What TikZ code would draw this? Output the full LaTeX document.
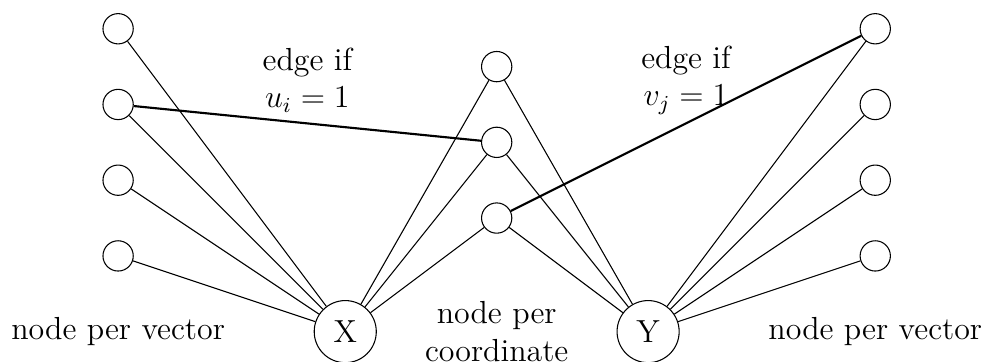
\documentclass[tikz,border=0pt]{standalone}
\usepackage{amsfonts}
\usepackage{tikz}

\begin{document}
\begin{tikzpicture}[auto, node distance=1cm,
    vertex/.style={circle, draw, minimum size=0.4cm, inner sep=0pt},
    hub/.style={circle, draw, minimum size=0.82cm, inner sep=0pt, font=\large},
    lbl/.style={align=center, font=\large}]
    \useasboundingbox (-1.56,-1.39) rectangle (11.41,3.38);
    % Nodes {a1..a4 vectors, c1..c3 coordinates, b1..b4 vectors, X, Y}
    \node [vertex]          (a1) at (0,0)         {};
    \node [vertex]          (a2) [above of=a1]    {};
    \node [vertex]          (a3) [above of=a2]    {};
    \node [vertex]          (a4) [above of=a3]    {};
    \node [vertex]          (c1) at (5,0.5)       {};
    \node [vertex]          (c2) [above of=c1]    {};
    \node [vertex]          (c3) [above of=c2]    {};
    \node [vertex]          (b1) at (10,0)        {};
    \node [vertex]          (b2) [above of=b1]    {};
    \node [vertex]          (b3) [above of=b2]    {};
    \node [vertex]          (b4) [above of=b3]    {};
    \node [hub]             (x)  at (3,-1)        {X};
    \node [hub]             (y)  at (7,-1)        {Y};

    % Labels
    \node [lbl]             (lx) at (0,-1)        {node per vector};
    \node [lbl]             (lc) at (5,-1)        {node per\\coordinate};
    \node [lbl]             (ly) at (10,-1)       {node per vector};
    \node [lbl]             (eu) at (2.5,2.32)    {edge if\\$u_i = 1$};
    \node [lbl]             (ev) at (7.5,2.32)    {edge if\\$v_j = 1$};

    % Paths
    \path (a1) edge (x);
    \path (a2) edge (x);
    \path (a3) edge (x);
    \path (a4) edge (x);

    \path (c1) edge (x);
    \path (c2) edge (x);
    \path (c3) edge (x);
    \path (c1) edge (y);
    \path (c2) edge (y);
    \path (c3) edge (y);

    \path (b1) edge (y);
    \path (b2) edge (y);
    \path (b3) edge (y);
    \path (b4) edge (y);

    \path [thick] (a3) edge (c2);
    \path [thick] (c1) edge (b4);
\end{tikzpicture}
\end{document}
